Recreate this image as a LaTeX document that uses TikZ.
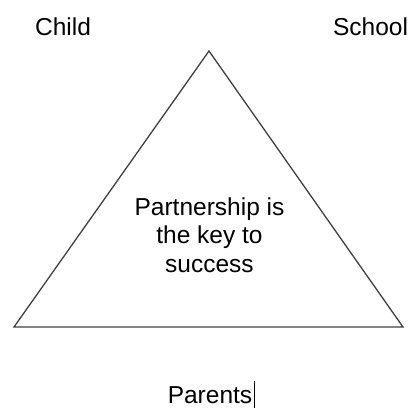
\documentclass[tikz,border=0pt]{standalone}
\usepackage{fontspec}
\setmainfont{Liberation Sans}
\begin{document}
\begin{tikzpicture}[x=1bp,y=1bp,
  label/.style={font=\fontsize{24.5bp}{28.5bp}\selectfont, inner sep=0pt, anchor=base},
  edge/.style={draw=black!75, line width=1.3bp, line join=miter}]
\useasboundingbox (0,0) rectangle (412,408);
% corners of the triangle
\coordinate (top) at (209,357);
\coordinate (bl) at (14,81);
\coordinate (br) at (403,81);
\draw[edge] (top) -- (br) -- (bl) -- cycle;
% labels
\node[label] (child) at (63,373) {Child};
\node[label] (school) at (370.5,373) {School};
\node[label, align=center] (centre) at (209.5,136) {Partnership is\\the key to\\success};
\node[label] (parents) at (210,5) {Parents};
% text cursor after the last word
\coordinate (caretTop) at (254,27);
\coordinate (caretBot) at (254,0);
\draw[line width=1bp] (caretTop) -- (caretBot);
\end{tikzpicture}
\end{document}
